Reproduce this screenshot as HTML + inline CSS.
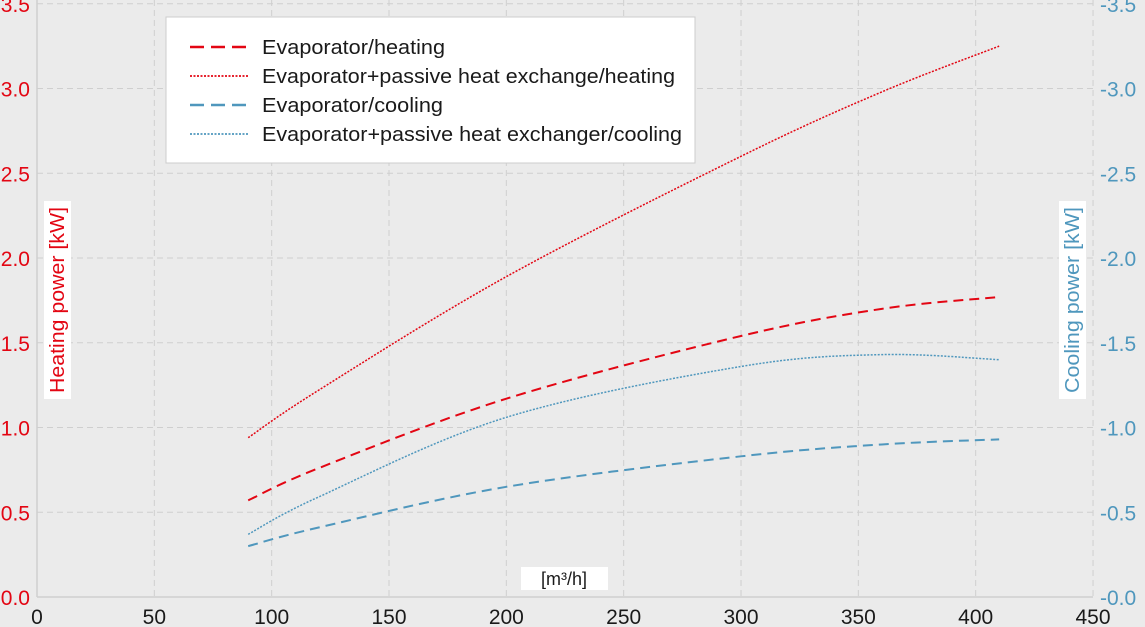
<!DOCTYPE html>
<html><head><meta charset="utf-8"><style>
body{margin:0;background:#ebebeb;}
svg{display:block;font-family:"Liberation Sans",sans-serif;}
</style></head><body>
<svg id="s" width="1145" height="627" viewBox="0 0 1145 627" xmlns="http://www.w3.org/2000/svg">
<rect width="1145" height="627" fill="#ebebeb"/>
<g id="grid" stroke="#cfcfcf" stroke-width="1" stroke-dasharray="6,4" fill="none"></g>
<line x1="37" y1="0" x2="37" y2="597" stroke="#cfcfcf" stroke-width="1.5"/>
<line x1="37" y1="597" x2="1093" y2="597" stroke="#cfcfcf" stroke-width="1.5"/>
<g id="lab" font-size="21"></g>
<g id="curves" fill="none"></g>
<rect x="166" y="17" width="529" height="146" fill="#fff" stroke="#ccc"/>
<g font-size="20" fill="#1a1a1a">
<line x1="190" y1="47" x2="249" y2="47" stroke="#e30613" stroke-width="2.5" stroke-dasharray="14,7"/>
<text x="262" y="54" textLength="183" lengthAdjust="spacingAndGlyphs">Evaporator/heating</text>
<line x1="190" y1="76" x2="249" y2="76" stroke="#e30613" stroke-width="1.8" stroke-dasharray="2,1.5"/>
<text x="262" y="83" textLength="413" lengthAdjust="spacingAndGlyphs">Evaporator+passive heat exchange/heating</text>
<line x1="190" y1="105" x2="249" y2="105" stroke="#4f97bd" stroke-width="2.5" stroke-dasharray="14,7"/>
<text x="262" y="112" textLength="181" lengthAdjust="spacingAndGlyphs">Evaporator/cooling</text>
<line x1="190" y1="134" x2="249" y2="134" stroke="#4f97bd" stroke-width="1.8" stroke-dasharray="2,1.5"/>
<text x="262" y="141" textLength="420" lengthAdjust="spacingAndGlyphs">Evaporator+passive heat exchanger/cooling</text>
</g>
<rect x="44" y="201" width="27" height="198" fill="#fff"/>
<text transform="translate(64,300) rotate(-90)" text-anchor="middle" font-size="20" fill="#e30613" textLength="186" lengthAdjust="spacingAndGlyphs">Heating power [kW]</text>
<rect x="1059" y="201" width="27" height="198" fill="#fff"/>
<text transform="translate(1079,300) rotate(-90)" text-anchor="middle" font-size="20" fill="#4f97bd" textLength="186" lengthAdjust="spacingAndGlyphs">Cooling power [kW]</text>
<rect x="521" y="567" width="87" height="23" fill="#fff"/>
<text x="564" y="585" text-anchor="middle" font-size="18" fill="#1a1a1a">[m³/h]</text>
</svg>
<script>
const NS="http://www.w3.org/2000/svg";
const X=v=>37+v*2.3467, Y=v=>597-v*169.5;
const g=document.getElementById('grid'), lab=document.getElementById('lab'), cv=document.getElementById('curves');
function el(p,t,a,txt){const e=document.createElementNS(NS,t);for(const k in a)e.setAttribute(k,a[k]);if(txt!==undefined)e.textContent=txt;p.appendChild(e);return e;}
for(let i=1;i<=9;i++){const x=X(i*50);el(g,'line',{x1:x,y1:0,x2:x,y2:597});}
for(let i=1;i<=7;i++){const y=Y(i*0.5);el(g,'line',{x1:37,y1:y,x2:1093,y2:y});}
for(let i=0;i<=9;i++){el(lab,'text',{x:X(i*50),y:624,'text-anchor':'middle',fill:'#1a1a1a'},String(i*50));}
for(let i=0;i<=7;i++){const v=(i*0.5).toFixed(1);el(lab,'text',{x:30,y:Y(i*0.5)+8,'text-anchor':'end',fill:'#e30613'},v);
el(lab,'text',{x:1100,y:Y(i*0.5)+8,fill:'#4f97bd'},'-'+v);}
function path(pts){const P=pts.map(p=>[X(p[0]),Y(p[1])]);let d='M'+P[0][0]+','+P[0][1];
for(let i=0;i<P.length-1;i++){const p0=P[Math.max(0,i-1)],p1=P[i],p2=P[i+1],p3=P[Math.min(P.length-1,i+2)];
const c1=[p1[0]+(p2[0]-p0[0])/6,p1[1]+(p2[1]-p0[1])/6],c2=[p2[0]-(p3[0]-p1[0])/6,p2[1]-(p3[1]-p1[1])/6];
d+=' C'+c1+' '+c2+' '+p2;}return d;}
const xs=[90,120,200,300,360,410];
const S=[
 [[0.57,0.76,1.17,1.54,1.70,1.77],'#e30613',2,'10,6'],
 [[0.94,1.22,1.89,2.60,2.98,3.25],'#e30613',1.5,'2,1.5'],
 [[0.30,0.41,0.65,0.83,0.90,0.93],'#4f97bd',2,'10,6'],
 [[0.37,0.59,1.06,1.36,1.43,1.40],'#4f97bd',1.5,'2,1.5']];
S.forEach(s=>{el(cv,'path',{d:path(xs.map((x,i)=>[x,s[0][i]])),stroke:s[1],'stroke-width':s[2],'stroke-dasharray':s[3]});});
</script>
</body></html>
